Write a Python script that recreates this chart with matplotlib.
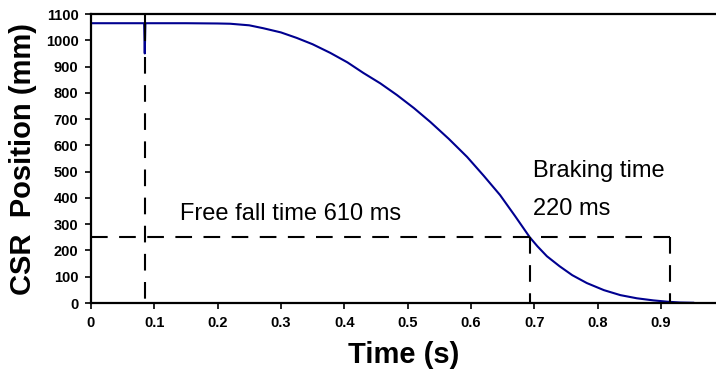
import matplotlib.pyplot as plt

# CSR position trace
time_s = [0.0, 0.05, 0.084, 0.085, 0.086, 0.15, 0.2, 0.22, 0.25, 0.272, 0.3, 0.325,
          0.35, 0.378, 0.405, 0.43, 0.457, 0.483, 0.51, 0.536, 0.565, 0.594, 0.62,
          0.646, 0.67, 0.693, 0.705, 0.72, 0.74, 0.76, 0.783, 0.81, 0.836, 0.862, 0.888,
          0.91, 0.93, 0.951]
position_mm = [1065, 1065, 1065, 950, 1065, 1065, 1064, 1063, 1057, 1046, 1030, 1009,
               985, 952, 916, 876, 836, 792, 742, 689, 625, 556, 485,
               411, 330, 250, 216, 178, 140, 106, 76, 49, 30, 18, 10,
               5, 2, 1]

free_fall_t = 0.085
brake_start_t = 0.693
stop_t = 0.915
level_mm = 250

xticks = [0, 0.1, 0.2, 0.3, 0.4, 0.5, 0.6, 0.7, 0.8, 0.9]
xtick_labels = ["0", "0.1", "0.2", "0.3", "0.4", "0.5", "0.6", "0.7", "0.8", "0.9"]
yticks = list(range(0, 1101, 100))

plt.rcParams["font.family"] = ["Liberation Sans", "DejaVu Sans"]

fig = plt.figure(figsize=(7.16, 3.8), dpi=100)
ax = fig.add_axes([0.127, 0.2026, 0.873, 0.7605])

ax.plot(time_s, position_mm, color="#000090", lw=1.5, zorder=2)

# marker lines for the two time intervals
dash = dict(color="black", lw=1.5, dashes=(8, 5.5), zorder=3)
ax.plot([free_fall_t, free_fall_t], [1100, 1000], color="black", lw=1.5, zorder=3)
ax.plot([free_fall_t, free_fall_t], [935, 0], **dash)
ax.plot([0, stop_t], [level_mm, level_mm], **dash)
ax.plot([brake_start_t, brake_start_t], [level_mm, 0], **dash)
ax.plot([stop_t, stop_t], [level_mm, 0], **dash)

ax.set_xlim(0, 0.987)
ax.set_ylim(0, 1100)
ax.set_xticks(xticks)
ax.set_xticklabels(xtick_labels)
ax.set_yticks(yticks)

for s in ["left", "bottom", "top"]:
    ax.spines[s].set_linewidth(1.6)
ax.spines["right"].set_visible(False)
ax.tick_params(direction="out", length=4, width=1.2, labelsize=10.5, pad=5)
for lbl in ax.get_xticklabels() + ax.get_yticklabels():
    lbl.set_fontweight("bold")

ax.set_xlabel("Time (s)", fontsize=21, fontweight="bold", labelpad=8)
ax.set_ylabel("CSR  Position (mm)", fontsize=21, fontweight="bold", labelpad=6)

ax.text(0.1406, 316, "Free fall time 610 ms", fontsize=17)
ax.text(0.698, 480, "Braking time", fontsize=17)
ax.text(0.698, 335, "220 ms", fontsize=17)

fig.savefig("out.png", dpi=100)
